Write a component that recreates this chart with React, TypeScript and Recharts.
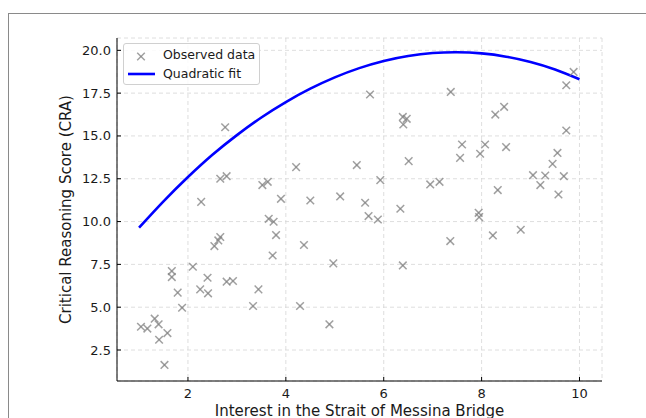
import React from 'react';
import { ComposedChart, Scatter, Line, XAxis, YAxis, CartesianGrid } from 'recharts';

const obsX = [
  1.04, 1.17, 1.32, 1.4, 1.41, 1.52, 1.58, 1.67, 1.67, 1.79, 1.88, 2.1, 2.25, 2.27, 2.4, 2.41,
  2.54, 2.62, 2.66, 2.66, 2.76, 2.79, 2.79, 2.92, 3.33, 3.44, 3.52, 3.63, 3.65, 3.73, 3.75, 3.8,
  3.9, 4.21, 4.29, 4.37, 4.5, 4.89, 4.97, 5.11, 5.45, 5.62, 5.69, 5.72, 5.88, 5.93, 6.34, 6.39,
  6.39, 6.4, 6.47, 6.51, 6.95, 7.14, 7.36, 7.37, 7.56, 7.6, 7.94, 7.95, 7.97, 8.07, 8.23, 8.28,
  8.33, 8.46, 8.5, 8.8, 9.05, 9.2, 9.3, 9.45, 9.55, 9.57, 9.68, 9.73, 9.73, 9.88,
];
const obsY = [
  3.86, 3.75, 4.33, 4.0, 3.1, 1.63, 3.49, 7.11, 6.76, 5.85, 4.97, 7.36, 6.04, 11.15, 6.72, 5.81,
  8.57, 8.9, 9.1, 12.5, 15.51, 12.65, 6.49, 6.53, 5.07, 6.04, 12.13, 12.32, 10.16, 8.02, 9.99, 9.21,
  11.33, 13.18, 5.07, 8.63, 11.23, 4.0, 7.56, 11.47, 13.3, 11.1, 10.32, 17.42, 10.12, 12.42, 10.75, 16.11,
  7.44, 15.67, 16.0, 13.53, 12.17, 12.32, 8.86, 17.57, 13.72, 14.5, 10.51, 10.26, 13.96, 14.5, 9.19, 16.25,
  11.84, 16.7, 14.35, 9.52, 12.71, 12.13, 12.69, 13.37, 14.01, 11.58, 12.65, 15.32, 17.96, 18.74,
];

// Quadratic fit curve
const fitX = [1, 1.5, 2, 2.5, 3, 3.5, 4, 4.5, 5, 5.5, 6, 6.5, 7, 7.5, 8, 8.5, 9, 9.5, 10];
const fitY = [9.64, 11.18, 12.6, 13.9, 15.05, 16.08, 16.98, 17.76, 18.42, 18.96, 19.38, 19.67, 19.84, 19.89, 19.82, 19.63, 19.32, 18.88, 18.31];

const xTicks = [2, 4, 6, 8, 10];
const xTickLabels = ['2', '4', '6', '8', '10'];
const yTicks = [2.5, 5, 7.5, 10, 12.5, 15, 17.5, 20];
const yTickLabels = ['2.5', '5.0', '7.5', '10.0', '12.5', '15.0', '17.5', '20.0'];

const seriesNames = ['Observed data', 'Quadratic fit'];
const xLabel = 'Interest in the Strait of Messina Bridge';
const yLabel = 'Critical Reasoning Score (CRA)';

const obsData = obsX.map((x, i) => ({ x, y: obsY[i] }));
const fitData = fitX.map((x, i) => ({ x, y: fitY[i] }));

const FONT = '"DejaVu Sans", sans-serif';
const MARK = 'gray';

const XMarker = (props: any) => {
  const { cx, cy } = props;
  if (cx == null || cy == null) return null;
  const r = 3.8;
  return (
    <g stroke={MARK} strokeOpacity={0.75} strokeWidth={1.5}>
      <line x1={cx - r} y1={cy - r} x2={cx + r} y2={cy + r} />
      <line x1={cx - r} y1={cy + r} x2={cx + r} y2={cy - r} />
    </g>
  );
};

const XTick = (props: any) => {
  const { x, y, payload } = props;
  const idx = xTicks.indexOf(payload.value);
  return (
    <g>
      <line x1={x} y1={y} x2={x} y2={y - 4} stroke="#000" strokeWidth={1} />
      <text x={x} y={y + 17} textAnchor="middle" fontFamily={FONT} fontSize={13} fill="#1a1a1a">
        {idx >= 0 ? xTickLabels[idx] : payload.value}
      </text>
    </g>
  );
};

const YTick = (props: any) => {
  const { x, y, payload } = props;
  const idx = yTicks.indexOf(payload.value);
  return (
    <g>
      <line x1={x} y1={y} x2={x + 4} y2={y} stroke="#000" strokeWidth={1} />
      <text x={x - 6} y={y + 4.5} textAnchor="end" fontFamily={FONT} fontSize={13} fill="#1a1a1a">
        {idx >= 0 ? yTickLabels[idx] : payload.value}
      </text>
    </g>
  );
};

const YLabel = (props: any) => {
  const vb = props.viewBox || { x: 57, y: 38, width: 60, height: 343 };
  const cx = vb.x + 9;
  const cy = vb.y + vb.height / 2;
  return (
    <text
      x={cx}
      y={cy}
      transform={`rotate(-90, ${cx}, ${cy})`}
      textAnchor="middle"
      dominantBaseline="central"
      fontFamily={FONT}
      fontSize={15}
      fill="#1a1a1a"
    >
      {yLabel}
    </text>
  );
};

const XLabel = (props: any) => {
  const vb = props.viewBox || { x: 117, y: 381, width: 485, height: 37 };
  return (
    <text x={vb.x + vb.width / 2} y={vb.y + 35} textAnchor="middle" fontFamily={FONT} fontSize={15} fill="#1a1a1a">
      {xLabel}
    </text>
  );
};

export default function App() {
  return (
    <div style={{ position: 'absolute', left: 0, top: 0, width: 646, height: 418, overflow: 'hidden', background: '#fff' }}>
      <div
        style={{
          position: 'absolute',
          left: 8,
          top: 13,
          width: 700,
          height: 500,
          borderTop: '1px solid #8a8a8a',
          borderLeft: '1px solid #8a8a8a',
        }}
      />
      <div style={{ position: 'absolute', left: 0, top: 0 }}>
        <ComposedChart width={646} height={418} margin={{ top: 38, right: 44, left: 57, bottom: 0 }}>
          <CartesianGrid stroke="#d6d6d6" strokeDasharray="4 3" strokeWidth={0.8} />
          <XAxis
            type="number"
            dataKey="x"
            domain={[0.55, 10.46]}
            allowDataOverflow
            ticks={xTicks}
            height={37}
            tickSize={0}
            tickMargin={0}
            tickLine={false}
            axisLine={{ stroke: '#000', strokeWidth: 1 }}
            tick={<XTick />}
            interval={0}
            label={<XLabel />}
          />
          <YAxis
            type="number"
            dataKey="y"
            domain={[0.69, 20.72]}
            allowDataOverflow
            ticks={yTicks}
            width={60}
            tickSize={0}
            tickMargin={0}
            tickLine={false}
            axisLine={{ stroke: '#000', strokeWidth: 1 }}
            tick={<YTick />}
            interval={0}
            label={<YLabel />}
          />
          <Scatter name={seriesNames[0]} data={obsData} dataKey="y" shape={<XMarker />} isAnimationActive={false} />
          <Line
            name={seriesNames[1]}
            data={fitData}
            dataKey="y"
            type="natural"
            stroke="#0000ff"
            strokeWidth={2.6}
            dot={false}
            activeDot={false}
            isAnimationActive={false}
          />
        </ComposedChart>
      </div>
      <div
        style={{
          position: 'absolute',
          left: 123,
          top: 43,
          width: 135,
          height: 40,
          border: '1px solid #d0d0d0',
          borderRadius: 3,
          background: 'rgba(255,255,255,0.85)',
          fontFamily: FONT,
          fontSize: 12.5,
          color: '#1a1a1a',
        }}
      >
        <svg width={40} height={40} style={{ position: 'absolute', left: 0, top: 0 }}>
          <g stroke={MARK} strokeOpacity={0.75} strokeWidth={1.5}>
            <line x1={17 - 3.8} y1={12.5 - 3.8} x2={17 + 3.8} y2={12.5 + 3.8} />
            <line x1={17 - 3.8} y1={12.5 + 3.8} x2={17 + 3.8} y2={12.5 - 3.8} />
          </g>
          <line x1={4} y1={30} x2={31} y2={30} stroke="#0000ff" strokeWidth={2.6} />
        </svg>
        <div style={{ position: 'absolute', left: 39, top: 3, lineHeight: '16px', whiteSpace: 'nowrap' }}>{seriesNames[0]}</div>
        <div style={{ position: 'absolute', left: 39, top: 22, lineHeight: '16px', whiteSpace: 'nowrap' }}>{seriesNames[1]}</div>
      </div>
    </div>
  );
}
